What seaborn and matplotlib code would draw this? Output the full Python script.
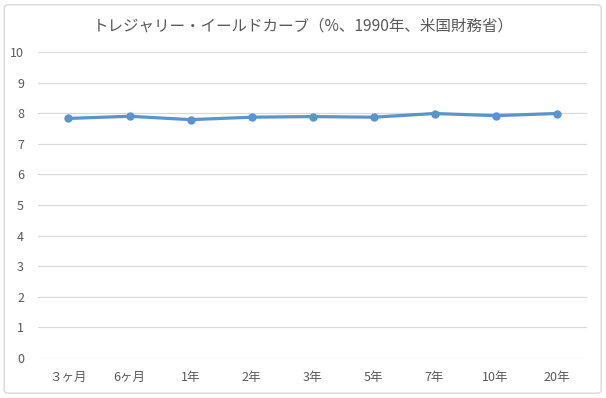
import pandas as pd
import matplotlib.pyplot as plt
import seaborn as sns
from matplotlib.patches import FancyBboxPatch

# Data
maturities = ['３ヶ月', '6ヶ月', '1年', '2年', '3年', '5年', '7年', '10年', '20年']
yields = [7.83, 7.90, 7.79, 7.87, 7.89, 7.87, 7.99, 7.92, 7.99]
y_ticks = [0, 1, 2, 3, 4, 5, 6, 7, 8, 9, 10]

df = pd.DataFrame({'maturity': maturities, 'yield': yields})

sns.set_theme(style='white')
plt.rcParams['font.family'] = ['Noto Sans CJK JP', 'DejaVu Sans']

fig = plt.figure(figsize=(6.06, 3.98), dpi=100)
ax = fig.add_axes([0.0627, 0.1005, 0.906, 0.7688])

# Outer chart border
fig.patches.append(FancyBboxPatch((0.007, 0.012), 0.985, 0.976,
                                  boxstyle='round,pad=0,rounding_size=0.008',
                                  transform=fig.transFigure, fill=False,
                                  edgecolor='#d9d9d9', linewidth=1.0))

sns.lineplot(data=df, x='maturity', y='yield', ax=ax, sort=False,
             color='#5b93cc', linewidth=2.3, marker='o', markersize=6,
             markeredgewidth=0)

ax.set_xlim(-0.5, len(maturities) - 0.5)
ax.set_ylim(0, 10)
ax.set_yticks(y_ticks)
ax.grid(axis='y', color='#d9d9d9', linewidth=0.9)
ax.set_axisbelow(True)
for s in ax.spines.values():
    s.set_visible(False)
ax.tick_params(axis='both', length=0, colors='#595959', labelsize=9)
ax.tick_params(axis='x', pad=9)
ax.tick_params(axis='y', pad=10)
ax.set_xlabel('')
ax.set_ylabel('')

fig.text(0.5, 0.935, 'トレジャリー・イールドカーブ（%、1990年、米国財務省）',
         ha='center', va='center', fontsize=11.2, color='#595959')

fig.savefig('out.png', dpi=100)
